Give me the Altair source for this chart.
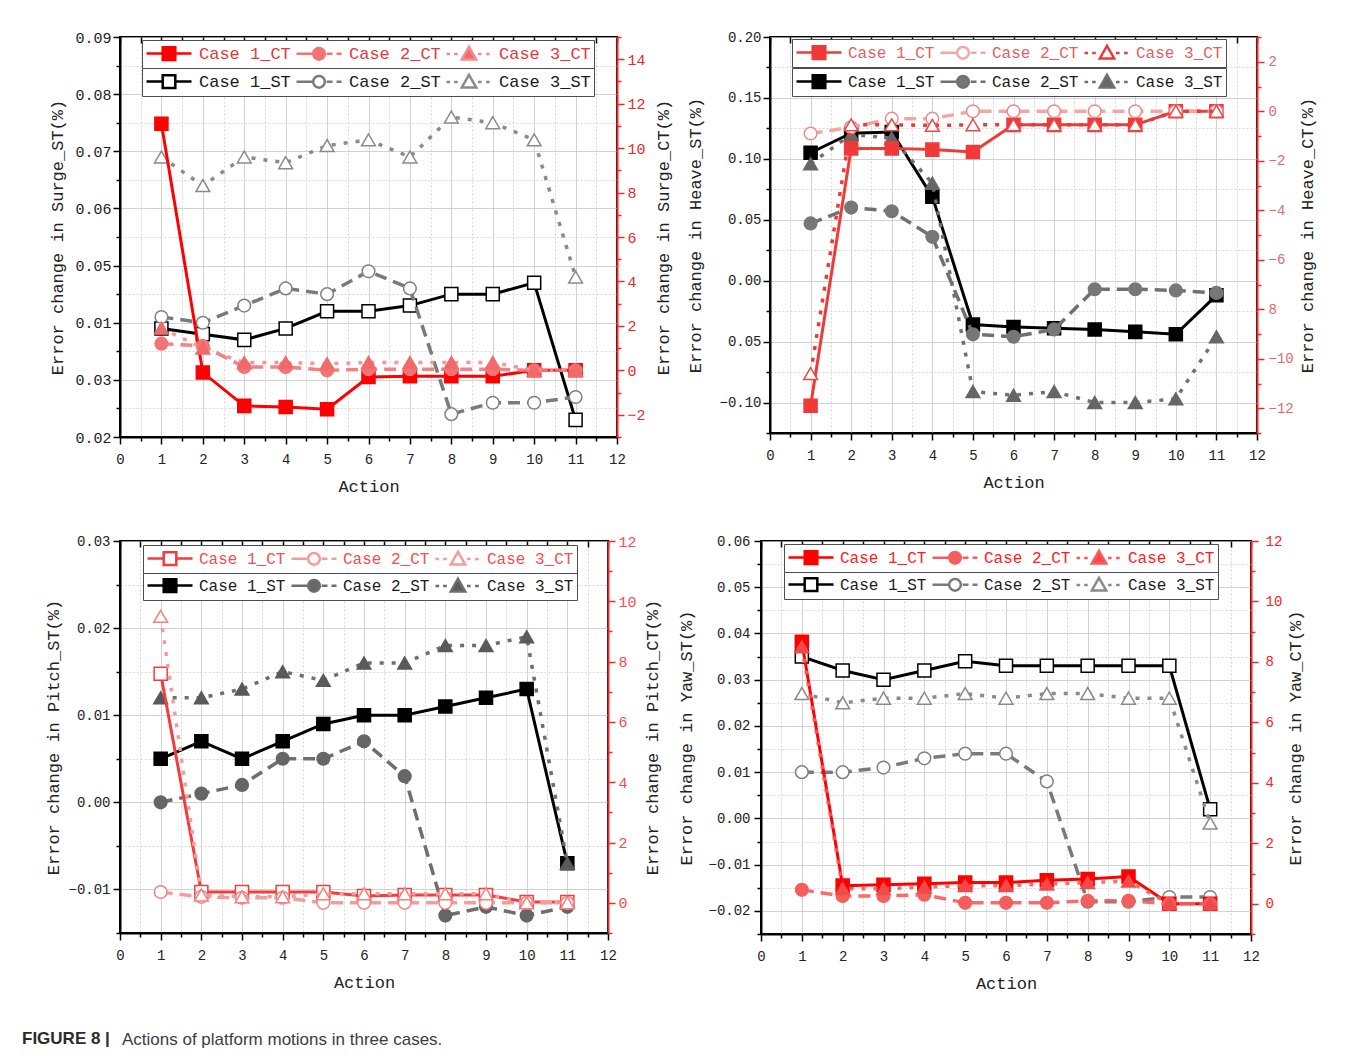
import altair as alt
import pandas as pd

FONT = "Liberation Mono"
SANS = "Liberation Sans"
RED = "#ee2a2a"

actions = list(range(1, 12))
names_ct = ["Case 1_CT", "Case 2_CT", "Case 3_CT"]
names_st = ["Case 1_ST", "Case 2_ST", "Case 3_ST"]

# ---------------- Surge ----------------
surge_ct1 = [11.1, -0.1, -1.6, -1.65, -1.75, -0.3, -0.27, -0.27, -0.27, 0.0, 0.0]
surge_ct2 = [1.2, 1.1, 0.15, 0.15, 0.0, 0.05, 0.05, 0.05, 0.05, 0.0, 0.0]
surge_ct3 = [1.9, 1.0, 0.35, 0.35, 0.3, 0.35, 0.35, 0.35, 0.35, 0.0, 0.0]
surge_st1 = [0.039, 0.038, 0.037, 0.039, 0.042, 0.042, 0.043, 0.045, 0.045, 0.047, 0.023]
surge_st2 = [0.041, 0.040, 0.043, 0.046, 0.045, 0.049, 0.046, 0.024, 0.026, 0.026, 0.027]
surge_st3 = [0.069, 0.064, 0.069, 0.068, 0.071, 0.072, 0.069, 0.076, 0.075, 0.072, 0.048]

# ---------------- Heave ----------------
heave_ct1 = [-11.9, -1.5, -1.5, -1.55, -1.65, -0.55, -0.55, -0.55, -0.55, 0.0, 0.0]
heave_ct2 = [-0.9, -0.65, -0.3, -0.3, 0.0, 0.0, 0.0, 0.0, 0.0, 0.0, 0.0]
heave_ct3 = [-10.6, -0.55, -0.55, -0.57, -0.55, -0.55, -0.55, -0.55, -0.55, 0.0, 0.0]
heave_st1 = [0.105, 0.121, 0.122, 0.069, -0.036, -0.038, -0.039, -0.040, -0.042, -0.044, -0.012]
heave_st2 = [0.047, 0.060, 0.057, 0.036, -0.044, -0.046, -0.040, -0.007, -0.007, -0.008, -0.010]
heave_st3 = [0.096, 0.120, 0.117, 0.080, -0.091, -0.094, -0.091, -0.100, -0.100, -0.097, -0.046]

# ---------------- Pitch ----------------
pitch_ct1 = [7.6, 0.36, 0.36, 0.36, 0.36, 0.23, 0.26, 0.26, 0.26, 0.03, 0.03]
pitch_ct2 = [0.36, 0.2, 0.17, 0.17, 0.0, 0.0, 0.0, 0.0, 0.0, 0.0, 0.0]
pitch_ct3 = [9.5, 0.26, 0.2, 0.2, 0.3, 0.3, 0.3, 0.3, 0.3, 0.0, 0.0]
pitch_st1 = [0.005, 0.007, 0.005, 0.007, 0.009, 0.010, 0.010, 0.011, 0.012, 0.013, -0.007]
pitch_st2 = [0.000, 0.001, 0.002, 0.005, 0.005, 0.007, 0.003, -0.013, -0.012, -0.013, -0.012]
pitch_st3 = [0.012, 0.012, 0.013, 0.015, 0.014, 0.016, 0.016, 0.018, 0.018, 0.019, -0.007]

# ---------------- Yaw ----------------
yaw_ct1 = [8.67, 0.6, 0.63, 0.66, 0.7, 0.7, 0.78, 0.82, 0.9, 0.0, 0.0]
yaw_ct2 = [0.46, 0.26, 0.26, 0.3, 0.03, 0.03, 0.03, 0.1, 0.1, 0.0, 0.0]
yaw_ct3 = [8.5, 0.5, 0.5, 0.55, 0.6, 0.6, 0.65, 0.7, 0.75, 0.0, 0.0]
yaw_st1 = [0.035, 0.032, 0.030, 0.032, 0.034, 0.033, 0.033, 0.033, 0.033, 0.033, 0.002]
yaw_st2 = [0.010, 0.010, 0.011, 0.013, 0.014, 0.014, 0.008, -0.018, -0.018, -0.017, -0.017]
yaw_st3 = [0.027, 0.025, 0.026, 0.026, 0.027, 0.026, 0.027, 0.027, 0.026, 0.026, -0.001]

caption_bold = "FIGURE 8 |"
caption_text = "Actions of platform motions in three cases."

DASH = {1: None, 2: [12, 7], 3: [4, 8]}
SHAPE = {1: "square", 2: "circle", 3: "triangle-up"}
SIZE = {1: 170, 2: 160, 3: 190}
LWIDTH = {1: 3, 2: 3.5, 3: 3.5}
LEG_PATHS = [
    "M-1,0H0.8M2.2,0H4M0.8,-0.7H2.2V0.7H0.8Z",
    "M-1,0H0.85M2.35,0H3M3.45,0H4M0.85,0A0.65,0.65 0 1,0 2.15,0A0.65,0.65 0 1,0 0.85,0Z",
    "M-1,0H-0.6M-0.15,0H0.25M2.5,0H2.9M3.4,0H3.8M1.5,-0.8L2.3,0.6L0.7,0.6Z",
]

xvals = [i * 0.5 for i in range(25)]
XT = "datum.value % 1 != 0"


def cond(test, a, b):
    return {"condition": {"test": test, "value": a}, "value": b}


x_bottom = alt.Axis(orient="bottom", title="Action", values=xvals, format=".0f",
                    labelExpr=f"({XT}) ? '' : datum.label",
                    grid=True, gridColor=cond(XT, "#d6d6d6", "#c2c2c2"),
                    gridDash=cond(XT, [2, 2], [1, 0]), gridWidth=1,
                    tickSize=cond(XT, 4, 7), tickColor="black", tickWidth=1.5,
                    domainColor="black", domainWidth=2,
                    labelFont=FONT, labelFontSize=14, labelColor="#222", labelPadding=8,
                    labelFlush=False, labelOverlap=False,
                    titleFont=FONT, titleFontSize=17, titleFontWeight="normal",
                    titleColor="#222", titlePadding=12)

x_top = alt.Axis(orient="top", title=None, values=xvals, labels=False, domain=False,
                 grid=False, ticks=True, tickSize=6, offset=-6, tickColor="black",
                 tickWidth=1.5)


def frac_test(k):
    return f"abs(datum.value*{k} - round(datum.value*{k})) > 0.001"


def left_axis(title, lo, hi, step, k, remap, lfs, extent, tpad, lpad):
    n = round((hi - lo) / step)
    vals = [round(lo + i * step, 6) for i in range(n + 1)]
    t = frac_test(k)
    expr = f"({t}) ? '' : "
    for v, txt in remap:
        expr += f"abs(datum.value - ({v})) < 1e-6 ? '{txt}' : "
    expr += "datum.label"
    return alt.Axis(title=title, orient="left", values=vals, format=".2f", labelExpr=expr,
                    grid=True, gridColor=cond(t, "#d6d6d6", "#c2c2c2"),
                    gridDash=cond(t, [2, 2], [1, 0]), gridWidth=1,
                    tickSize=cond(t, 4, 7), tickColor="black", tickWidth=1.5,
                    domainColor="black", domainWidth=2,
                    labelFont=FONT, labelFontSize=lfs, labelColor="#222", labelPadding=lpad,
                    labelOverlap=False,
                    titleFont=FONT, titleFontSize=17, titleFontWeight="normal",
                    titleColor="#222", titlePadding=tpad, minExtent=extent, maxExtent=extent)


def right_axis(title, lo, hi, remap, lfs, lcolor, extent, tpad, lpad):
    vals = list(range(lo, hi + 1))
    t = "datum.value % 2 != 0"
    expr = f"({t}) ? '' : "
    for v, txt in remap:
        expr += f"datum.value == {v} ? '{txt}' : "
    expr += "datum.label"
    return alt.Axis(title=title, orient="right", values=vals, format="d", labelExpr=expr,
                    grid=False, tickSize=cond(t, 4, 7), tickColor=RED, tickWidth=1.5,
                    domainColor=RED, domainWidth=2,
                    labelFont=FONT, labelFontSize=lfs, labelColor=lcolor, labelPadding=lpad,
                    labelOverlap=False,
                    titleFont=FONT, titleFontSize=17, titleFontWeight="normal",
                    titleColor="#222", titleAngle=270, titleBaseline="top",
                    titlePadding=tpad, minExtent=extent, maxExtent=extent)


def xenc(axis):
    return alt.X("action:Q", scale=alt.Scale(domain=[0, 12], nice=False, zero=False), axis=axis)


def yenc(axis, dom):
    return alt.Y("value:Q", scale=alt.Scale(domain=dom, nice=False, zero=False), axis=axis)


def series(df, xe, ye, case, sty):
    lc, pf, ps, op = sty
    lkw = dict(color=lc, strokeWidth=LWIDTH[case], opacity=op)
    if DASH[case]:
        lkw["strokeDash"] = DASH[case]
    line = alt.Chart(df).mark_line(**lkw).encode(x=xe, y=ye)
    pts = alt.Chart(df).mark_point(shape=SHAPE[case], size=SIZE[case], filled=True,
                                   fill=pf, stroke=ps, strokeWidth=1.5,
                                   opacity=1).encode(x=xe, y=ye)
    return [line, pts]


def legend_layer(df, xe, ye, names, stys, lab_color, lx, ly, fs, loff):
    leg = alt.Legend(title=None, orient="none", legendX=lx, legendY=ly,
                     direction="horizontal", columns=3, symbolSize=324,
                     symbolStrokeWidth=2.5, labelOffset=loff, labelFont=FONT,
                     labelFontSize=fs, labelColor=lab_color, columnPadding=0,
                     padding=3, strokeColor="#4d4d4d", fillColor="white",
                     symbolOpacity=1, labelLimit=300)
    fills = [s[1] for s in stys]
    strokes = [s[0] for s in stys]
    return alt.Chart(df).transform_filter("false").mark_point(filled=True).encode(
        x=xe, y=ye,
        shape=alt.Shape("series:N", scale=alt.Scale(domain=names, range=LEG_PATHS), legend=leg),
        fill=alt.Fill("series:N", scale=alt.Scale(domain=names, range=fills), legend=leg),
        stroke=alt.Stroke("series:N", scale=alt.Scale(domain=names, range=strokes), legend=leg),
    )


def panel(st_vals, ct_vals, st_sty, ct_sty, laxis, ldom, raxis, rdom, w, h,
          lx, ly1, ly2, lfs, loff, ct_lab):
    xb = xenc(x_bottom)
    xt = xenc(x_top)
    yl = yenc(laxis, ldom)
    yr = yenc(raxis, rdom)
    st_layers, ct_layers = [], []
    st_frames, ct_frames = [], []
    for i in range(3):
        d = pd.DataFrame({"action": actions, "value": st_vals[i], "series": names_st[i]})
        st_frames.append(d)
        st_layers += series(d, xb, yl, i + 1, st_sty[i])
        d2 = pd.DataFrame({"action": actions, "value": ct_vals[i], "series": names_ct[i]})
        ct_frames.append(d2)
        ct_layers += series(d2, xt, yr, i + 1, ct_sty[i])
    st_layers.append(legend_layer(pd.concat(st_frames), xb, yl, names_st, st_sty,
                                  "#1a1a1a", lx, ly2, lfs, loff))
    ct_layers.append(legend_layer(pd.concat(ct_frames), xt, yr, names_ct, ct_sty,
                                  ct_lab, lx, ly1, lfs, loff))
    st = alt.layer(*st_layers)
    ct = alt.layer(*ct_layers)
    return alt.layer(st, ct).resolve_scale(
        y="independent", shape="independent", fill="independent", stroke="independent"
    ).resolve_axis(x="independent").properties(width=w, height=h)


# styles: (line colour, marker fill, marker stroke, line opacity)
surge = panel(
    [surge_st1, surge_st2, surge_st3], [surge_ct1, surge_ct2, surge_ct3],
    [("#000000", "white", "#000000", 1), ("#7a7a7a", "white", "#808080", 1),
     ("#8a8a8a", "white", "#8a8a8a", 1)],
    [("#ff0000", "#ff0000", "#ff0000", 1), ("#f27474", "#f27474", "#f27474", 0.9),
     ("#f58c8c", "#f06a6a", "#f06a6a", 0.9)],
    left_axis("Error change in Surge_ST(%)", 0.02, 0.09, 0.005, 100, [(0.04, "0.01")],
              15, 46, 8, 2),
    [0.02, 0.09],
    right_axis("Error change in Surge_CT(%)", -3, 15, [], 15, "#e8292b", 30, 8, 3),
    [-3, 15], 497, 400, 22, 3, 31, 17, 33, "#e2383c")

heave = panel(
    [heave_st1, heave_st2, heave_st3], [heave_ct1, heave_ct2, heave_ct3],
    [("#000000", "#000000", "#000000", 1), ("#707070", "#777777", "#777777", 1),
     ("#707070", "#666666", "#666666", 1)],
    [("#f03a3a", "#f03a3a", "#f03a3a", 1), ("#f4a6a6", "white", "#f08a8a", 1),
     ("#e83c3c", "white", "#e84a4a", 1)],
    left_axis("Error change in Heave_ST(%)", -0.125, 0.20, 0.025, 20, [(-0.05, "0.05")],
              14, 52, 14, 2),
    [-0.125, 0.20],
    right_axis("Error change in Heave_CT(%)", -13, 3, [(-8, "8")], 14, "#e46a6a", 36, 6, 4),
    [-13, 3], 487, 396, 22, 2, 31, 16, 32, "#e46060")

pitch = panel(
    [pitch_st1, pitch_st2, pitch_st3], [pitch_ct1, pitch_ct2, pitch_ct3],
    [("#000000", "#000000", "#000000", 1), ("#6e6e6e", "#666666", "#666666", 1),
     ("#6e6e6e", "#5a5a5a", "#5a5a5a", 1)],
    [("#f43c3c", "white", "#f43c3c", 1), ("#f79a9a", "white", "#f58080", 1),
     ("#f79a9a", "white", "#f58080", 1)],
    left_axis("Error change in Pitch_ST(%)", -0.015, 0.03, 0.005, 100, [], 14, 52, 6, 3),
    [-0.015, 0.03],
    right_axis("Error change in Pitch_CT(%)", -1, 12, [], 15, "#ff4a4a", 29, 7, 3),
    [-1, 12], 488, 392, 23, 4, 31, 16, 32, "#ff4a4a")

yaw = panel(
    [yaw_st1, yaw_st2, yaw_st3], [yaw_ct1, yaw_ct2, yaw_ct3],
    [("#000000", "white", "#000000", 1), ("#7a7a7a", "white", "#808080", 1),
     ("#8a8a8a", "white", "#8a8a8a", 1)],
    [("#ff0000", "#ff0000", "#ff0000", 1), ("#f65d5d", "#f65d5d", "#f65d5d", 0.9),
     ("#f65d5d", "#f24a4a", "#f24a4a", 0.9)],
    left_axis("Error change in Yaw_ST(%)", -0.025, 0.06, 0.005, 100, [], 14, 53, 13, 4),
    [-0.025, 0.06],
    right_axis("Error change in Yaw_CT(%)", -1, 12, [], 14, "#ff2020", 30, 6, 7),
    [-1, 12], 490, 393, 23, 3, 30, 16, 32, "#ff2020")

row1 = alt.hconcat(surge, heave, spacing=13)
row2 = alt.hconcat(pitch, yaw, spacing=15)

inner = alt.vconcat(row1, row2, spacing=38, title=alt.TitleParams(
    caption_text, orient="bottom", anchor="start", offset=40, dx=79, font=SANS,
    fontSize=17, fontWeight="normal", color="#3c3c3c"))

chart = alt.vconcat(inner, title=alt.TitleParams(
    caption_bold, orient="bottom", anchor="start", offset=-17, dx=-21, font=SANS,
    fontSize=17, fontWeight="bold", color="#2b2b2b")).properties(
    padding={"left": 22, "top": 29, "right": 10, "bottom": 8}
).configure_view(stroke="black", strokeWidth=2)

chart.save("out.html", embed_options={"renderer": "svg", "actions": False})
